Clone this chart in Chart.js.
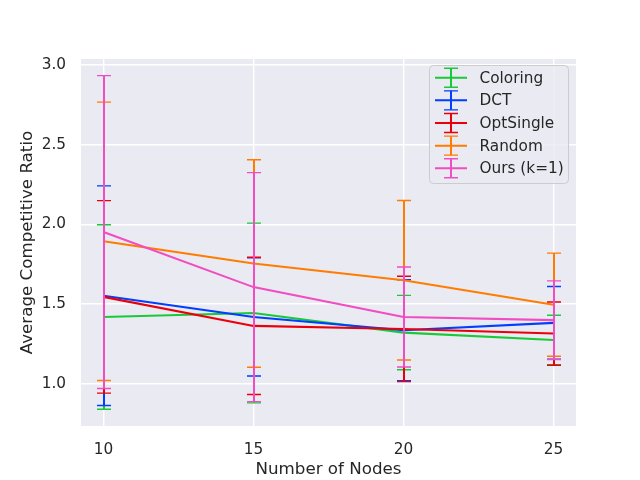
<!DOCTYPE html>
<html lang="en">
<head>
    <meta charset="UTF-8">
    <title>Average Competitive Ratio</title>
    <script src="https://cdn.jsdelivr.net/npm/chart.js"></script>
    <style>
        html, body { margin: 0; padding: 0; background: #ffffff; }
        #wrap { width: 640px; height: 480px; }
    </style>
</head>
<body>
    <div id="wrap"><canvas id="chart" width="640" height="480"></canvas></div>

    <script>
        // values (mean and +/- error)
        const nodes = [10, 15, 20, 25];
        const xTicks = [10, 15, 20, 25];
        const yTicks = [1.0, 1.5, 2.0, 2.5, 3.0];
        const seriesNames = ['Coloring', 'DCT', 'OptSingle', 'Random', 'Ours (k=1)'];

        const coloringMean = [1.420, 1.445, 1.322, 1.276];
        const coloringErr  = [0.578, 0.563, 0.233, 0.155];
        const dctMean      = [1.553, 1.420, 1.337, 1.383];
        const dctErr       = [0.688, 0.370, 0.316, 0.228];
        const optMean      = [1.546, 1.364, 1.345, 1.316];
        const optErr       = [0.603, 0.430, 0.330, 0.198];
        const randomMean   = [1.894, 1.755, 1.650, 1.497];
        const randomErr    = [0.872, 0.650, 0.500, 0.323];
        const oursMean     = [1.952, 1.607, 1.420, 1.400];
        const oursErr      = [0.980, 0.717, 0.313, 0.246];

        const colors = ['#1AC938', '#023EFF', '#E8000B', '#FF7C00', '#F14CC1'];
        const means = [coloringMean, dctMean, optMean, randomMean, oursMean];
        const errs = [coloringErr, dctErr, optErr, randomErr, oursErr];

        const textColor = '#262626';
        const fontFamily = "'DejaVu Sans', sans-serif";

        // grey plot background
        const plotBg = {
            id: 'plotBg',
            beforeDraw(chart) {
                const { ctx, chartArea: a } = chart;
                ctx.save();
                ctx.fillStyle = '#EAEAF2';
                ctx.fillRect(a.left, a.top, a.right - a.left, a.bottom - a.top);
                ctx.restore();
            }
        };

        // error bars, drawn right after each line so later series sit on top
        const errorBars = {
            id: 'errorBars',
            afterDatasetDraw(chart, args) {
                const ds = chart.data.datasets[args.index];
                const xs = chart.scales.x, ys = chart.scales.y;
                const ctx = chart.ctx;
                ctx.save();
                ctx.strokeStyle = ds.borderColor;
                ds.data.forEach((p, i) => {
                    const px = Math.round(xs.getPixelForValue(p.x));
                    const top = ys.getPixelForValue(p.y + ds.err[i]);
                    const bot = ys.getPixelForValue(p.y - ds.err[i]);
                    ctx.lineWidth = 2;
                    ctx.beginPath();
                    ctx.moveTo(px, top);
                    ctx.lineTo(px, bot);
                    ctx.stroke();
                    ctx.lineWidth = 1.4;
                    ctx.beginPath();
                    ctx.moveTo(px - 7, top); ctx.lineTo(px + 7, top);
                    ctx.moveTo(px - 7, bot); ctx.lineTo(px + 7, bot);
                    ctx.stroke();
                });
                ctx.restore();
            }
        };

        // matplotlib style legend inside the axes, upper right
        const boxLegend = {
            id: 'boxLegend',
            afterDraw(chart) {
                const ctx = chart.ctx;
                const x0 = 429.5, y0 = 65.5, w = 139, h = 118, r = 4;
                ctx.save();
                ctx.beginPath();
                ctx.roundRect(x0, y0, w, h, r);
                ctx.fillStyle = 'rgba(234,234,242,0.8)';
                ctx.fill();
                ctx.strokeStyle = '#CCCCCC';
                ctx.lineWidth = 1;
                ctx.stroke();
                ctx.font = '15.3px ' + fontFamily;
                ctx.textBaseline = 'middle';
                chart.data.datasets.forEach((ds, i) => {
                    const cy = 77.7 + i * 22.65;
                    const cx = 451;
                    ctx.strokeStyle = ds.borderColor;
                    ctx.lineWidth = 2;
                    ctx.beginPath();
                    ctx.moveTo(435, cy); ctx.lineTo(467, cy);
                    ctx.moveTo(cx, cy - 9.5); ctx.lineTo(cx, cy + 9.5);
                    ctx.stroke();
                    ctx.lineWidth = 1.4;
                    ctx.beginPath();
                    ctx.moveTo(cx - 7, cy - 9.5); ctx.lineTo(cx + 7, cy - 9.5);
                    ctx.moveTo(cx - 7, cy + 9.5); ctx.lineTo(cx + 7, cy + 9.5);
                    ctx.stroke();
                    ctx.fillStyle = textColor;
                    ctx.fillText(ds.label, 479.5, cy + 1);
                });
                ctx.restore();
            }
        };

        const datasets = seriesNames.map((name, s) => ({
            label: name,
            data: nodes.map((n, i) => ({ x: n, y: means[s][i] })),
            err: errs[s],
            borderColor: colors[s],
            backgroundColor: colors[s],
            borderWidth: 2.08,
            pointRadius: 0,
            tension: 0,
            fill: false,
            order: -s
        }));

        new Chart(document.getElementById('chart').getContext('2d'), {
            type: 'line',
            data: { datasets: datasets },
            options: {
                responsive: false,
                animation: false,
                layout: { padding: { top: 59, right: 64, left: 0, bottom: 0 } },
                plugins: { legend: { display: false }, tooltip: { enabled: false } },
                scales: {
                    x: {
                        type: 'linear',
                        min: 9.25,
                        max: 25.75,
                        afterBuildTicks: s => { s.ticks = xTicks.map(v => ({ value: v })); },
                        afterFit: s => { s.height = 54; },
                        grid: { color: '#ffffff', lineWidth: 1.4, drawTicks: false },
                        border: { display: false },
                        ticks: {
                            padding: 15,
                            color: textColor,
                            font: { family: fontFamily, size: 15.3 },
                            callback: v => String(v),
                            maxRotation: 0
                        },
                        title: {
                            display: true,
                            text: 'Number of Nodes',
                            color: textColor,
                            font: { family: fontFamily, size: 16.7 },
                            padding: { top: 0, bottom: 0 }
                        }
                    },
                    y: {
                        min: 0.737,
                        max: 3.036,
                        afterBuildTicks: s => { s.ticks = yTicks.map(v => ({ value: v })); },
                        afterFit: s => { s.width = 81; },
                        grid: { color: '#ffffff', lineWidth: 1.4, drawTicks: false },
                        border: { display: false },
                        ticks: {
                            padding: 15,
                            color: textColor,
                            font: { family: fontFamily, size: 15.3 },
                            callback: v => v.toFixed(1)
                        },
                        title: {
                            display: true,
                            text: 'Average Competitive Ratio',
                            color: textColor,
                            font: { family: fontFamily, size: 16.7 },
                            padding: { top: 18, bottom: 0 }
                        }
                    }
                }
            },
            plugins: [plotBg, errorBars, boxLegend]
        });
    </script>
</body>
</html>
